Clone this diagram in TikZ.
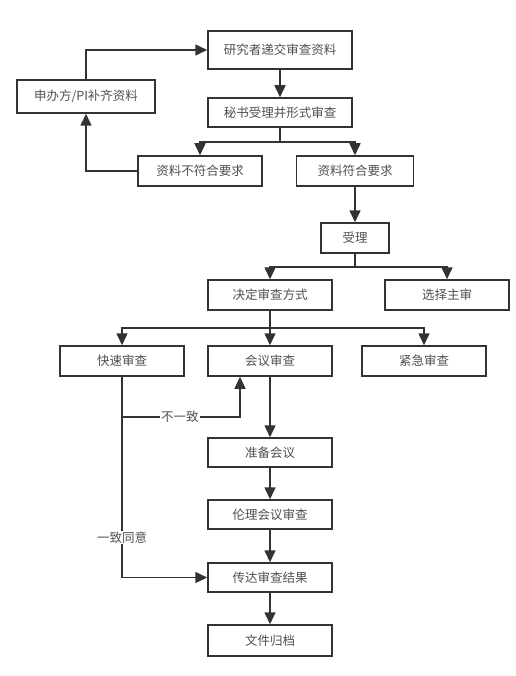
\documentclass[tikz,border=0pt]{standalone}
\usepackage{fontspec}
\newfontfamily\cjk{Noto Sans CJK SC}
\usetikzlibrary{arrows.meta}
\definecolor{linec}{HTML}{333333}
\definecolor{textc}{HTML}{505050}
\tikzset{
  box/.style={draw=linec, line width=1.5pt, fill=white, text=textc,
    font=\cjk\fontsize{12.5}{14}\selectfont, inner sep=0pt, minimum height=30pt},
  conn/.style={draw=linec, line width=1.6pt},
  arr/.style={conn, -{Triangle[length=12pt,width=11pt]}},
  lab/.style={fill=white, text=textc, font=\cjk\fontsize{12.5}{14}\selectfont, inner sep=1pt}
}
\begin{document}
\begin{tikzpicture}[x=1pt,y=-1pt]
\useasboundingbox (0,0) rectangle (515,676);
% nodes
\node[box, minimum width=144pt, minimum height=38pt] (n1) at (280,50) {研究者递交审查资料};
\node[box, minimum width=138pt, minimum height=33pt] (pi) at (86,96.5) {申办方/PI补齐资料};
\node[box, minimum width=144pt, minimum height=29pt] (n2) at (280,112.5) {秘书受理并形式审查};
\node[box, minimum width=124pt] (bad) at (200,171) {资料不符合要求};
\node[box, minimum width=117pt] (good) at (355,171) {资料符合要求};
\node[box, minimum width=68pt] (acc) at (355,238) {受理};
\node[box, minimum width=124pt] (dec) at (270,295) {决定审查方式};
\node[box, minimum width=124pt] (chief) at (447,295) {选择主审};
\node[box, minimum width=124pt] (fast) at (122,361) {快速审查};
\node[box, minimum width=124pt] (meet) at (270,361) {会议审查};
\node[box, minimum width=124pt] (urg) at (424,361) {紧急审查};
\node[box, minimum width=124pt, minimum height=29pt] (prep) at (270,452.5) {准备会议};
\node[box, minimum width=124pt, minimum height=29pt] (eth) at (270,514.5) {伦理会议审查};
\node[box, minimum width=124pt, minimum height=29pt] (conv) at (270,577.5) {传达审查结果};
\node[box, minimum width=124pt, minimum height=31pt] (arch) at (270,640.5) {文件归档};
% coordinates
\coordinate (s1) at (280,142);
\coordinate (s2) at (355,267);
\coordinate (s3) at (270,328);
\coordinate (j) at (122,417);
% connectors
\draw[arr] (n1) -- (n2);
\draw[conn] (n2.south) -- (s1);
\draw[arr] (s1) -| (bad.north);
\draw[arr] (s1) -| (good.north);
\draw[arr] (bad.west) -| (pi.south);
\draw[arr] (pi.north) |- (n1.west);
\draw[arr] (good) -- (acc);
\draw[conn] (acc.south) -- (s2);
\draw[arr] (s2) -| (dec.north);
\draw[arr] (s2) -| (chief.north);
\draw[conn] (dec.south) -- (s3);
\draw[arr] (s3) -| (fast.north);
\draw[arr] (s3) -- (meet.north);
\draw[arr] (s3) -| (urg.north);
\draw[arr] (j) -| node[lab, pos=0.245] {不一致} ([xshift=-30pt]meet.south);
\draw[arr] (fast.south) |- node[lab, pos=0.4] {一致同意} (conv.west);
\draw[arr] (meet) -- (prep);
\draw[arr] (prep) -- (eth);
\draw[arr] (eth) -- (conv);
\draw[arr] (conv) -- (arch);
\end{tikzpicture}
\end{document}
